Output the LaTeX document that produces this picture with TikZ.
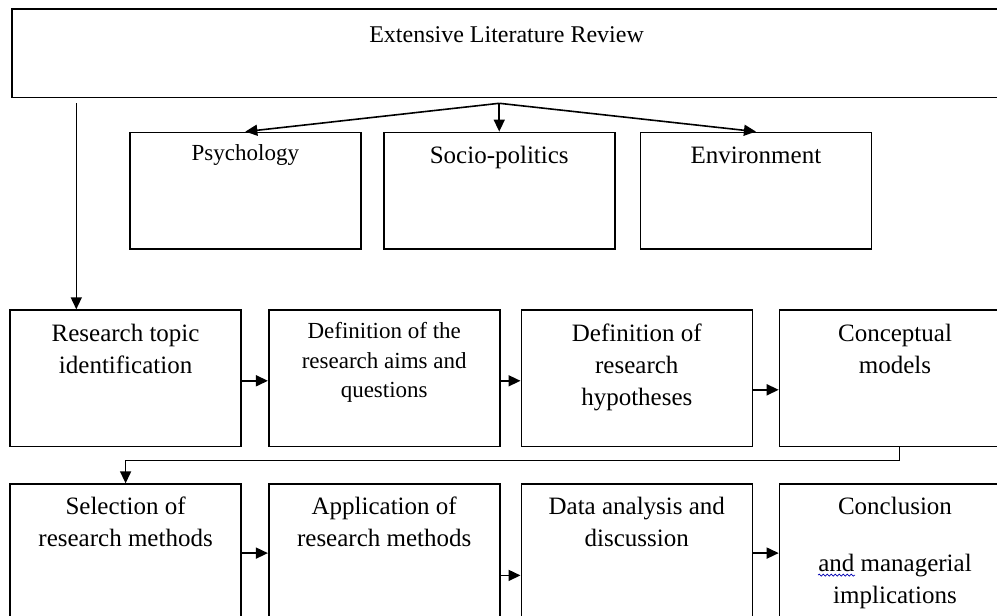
\documentclass[tikz,border=0pt]{standalone}
\usepackage{fontspec}
\setmainfont{Liberation Serif}
\usetikzlibrary{arrows.meta,positioning,decorations.pathmorphing}

\begin{document}
\begin{tikzpicture}[>={Triangle[length=12pt,width=11pt]},line width=1.6pt,
        box/.style={draw,minimum width=231pt,inner sep=0pt},
        topbox/.style={box,minimum height=116.7pt},
        rowbox/.style={box,minimum height=136.4pt},
        lastbox/.style={box,minimum height=160pt},
        boxtext/.style={align=center,anchor=base,inner sep=0pt,font=\fontsize{25pt}{32pt}\selectfont},
        smalltext/.style={boxtext,font=\fontsize{23pt}{29.5pt}\selectfont}]

                \useasboundingbox (0,0) rectangle (997pt,-616pt);
                \clip (0,0) rectangle (997pt,-616pt);

                % review and its three fields
                \node[box,minimum width=986.5pt,minimum height=88.4pt,anchor=north west] (review) at (11pt,-8.3pt) {};
                \node[topbox,below=33.3pt of review,xshift=-5.8pt] (socio) {};
                \node[topbox,left=21.3pt of socio] (psych) {};
                \node[topbox,right=24.1pt of socio] (env) {};

                % first row
                \node[rowbox,anchor=north west] (topic) at (9.3pt,-309.3pt) {};
                \node[rowbox,right=26pt of topic] (aims) {};
                \node[rowbox,right=20pt of aims] (hypo) {};
                \node[rowbox,right=25.6pt of hypo] (models) {};

                % second row
                \node[lastbox,below=36pt of topic] (select) {};
                \node[lastbox,right=26pt of select] (apply) {};
                \node[lastbox,right=20pt of apply] (data) {};
                \node[lastbox,right=25.6pt of data] (concl) {};

                % texts (base = baseline of the last line)
                \node[boxtext,font=\fontsize{24pt}{32pt}\selectfont] (review-t) at ([xshift=1.5pt,yshift=-34.4pt]review.north) {Extensive Literature Review};
                \node[boxtext,font=\fontsize{23pt}{32pt}\selectfont] (psych-t) at ([yshift=-29.3pt]psych.north) {Psychology};
                \node[boxtext] (socio-t) at ([yshift=-32.3pt]socio.north) {Socio-politics};
                \node[boxtext] (env-t) at ([yshift=-32.3pt]env.north) {Environment};

                \node[boxtext] (topic-t) at ([yshift=-64.4pt]topic.north) {Research topic\\identification};
                \node[smalltext] (aims-t) at ([yshift=-88.2pt]aims.north) {Definition of the\\research aims and\\questions};
                \node[boxtext] (hypo-t) at ([yshift=-96.4pt]hypo.north) {Definition of\\research\\hypotheses};
                \node[boxtext] (models-t) at ([yshift=-64.4pt]models.north) {Conceptual\\models};

                \node[boxtext] (select-t) at ([yshift=-63pt]select.north) {Selection of\\research methods};
                \node[boxtext] (apply-t) at ([yshift=-63pt]apply.north) {Application of\\research methods};
                \node[boxtext] (data-t) at ([yshift=-63pt]data.north) {Data analysis and\\discussion};
                \node[boxtext] (concl-t) at ([yshift=-120.3pt]concl.north) {Conclusion\\[24.7pt]and managerial\\implications};

                % spell-check squiggle under "and"
                \draw[blue!70!black,line width=0.7pt,decorate,decoration={snake,amplitude=1pt,segment length=4pt}]
                        ([xshift=-77pt,yshift=-91.8pt]concl.north) -- ([xshift=-40pt,yshift=-91.8pt]concl.north);

                % connectors
                \path (socio.north |- review.south) ++(0,-5pt) coordinate (fork);
                \path (topic.north |- fork) ++(-49.3pt,0) coordinate (drop);

                \draw[->] (fork) -- (psych.north);
                \draw[->] (fork) -- (socio.north);
                \draw[->] (fork) -- (env.north);
                \draw[->] (drop) -- (drop |- topic.north);

                \draw[->] ([yshift=-2.5pt]topic.east) -- ([yshift=-2.5pt]aims.west);
                \draw[->] ([yshift=-2.5pt]aims.east) -- ([yshift=-2.5pt]hypo.west);
                \draw[->] ([yshift=-11.5pt]hypo.east) -- ([yshift=-11.5pt]models.west);
                \draw[->] ([xshift=4.5pt]models.south) -- ++(0,-13.3pt) -| (select.north);

                \draw[->] ([yshift=11pt]select.east) -- ([yshift=11pt]apply.west);
                \draw[->] ([yshift=-11.3pt]apply.east) -- ([yshift=-11.3pt]data.west);
                \draw[->] ([yshift=11pt]data.east) -- ([yshift=11pt]concl.west);
            \end{tikzpicture}
\end{document}
